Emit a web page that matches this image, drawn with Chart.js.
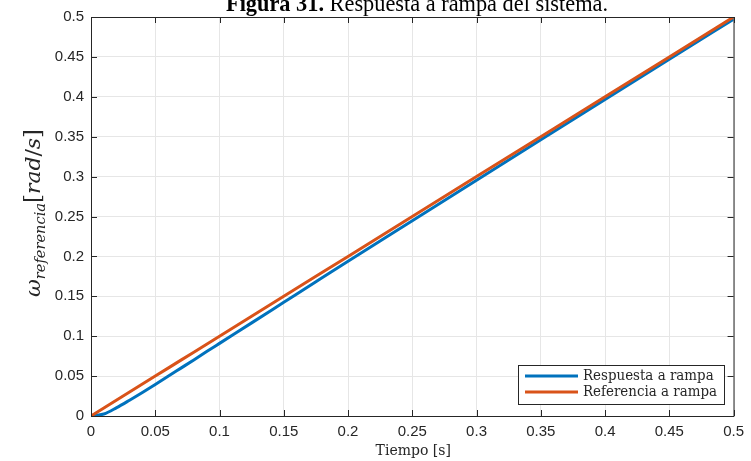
<!DOCTYPE html>
<html>
<head>
<meta charset="utf-8">
<script src="https://cdn.jsdelivr.net/npm/chart.js@4.4.1/dist/chart.umd.min.js"></script>
<style>
  html, body { margin: 0; padding: 0; background: #fff; }
  #wrap { width: 751px; height: 461px; }
</style>
</head>
<body>
<div id="wrap"><canvas id="myChart" width="751" height="461"></canvas></div>
<script>
// datos
const tiempo = [0, 0.01, 0.02, 0.03, 0.04, 0.05, 0.06, 0.07, 0.08, 0.09, 0.1, 0.125, 0.15, 0.175, 0.2, 0.25, 0.3, 0.35, 0.4, 0.45, 0.5];
const respuesta = [0, 0.0025, 0.0105, 0.0198, 0.0295, 0.0395, 0.0497, 0.06, 0.0703, 0.0807, 0.091, 0.1167, 0.1425, 0.1683, 0.194, 0.2448, 0.2955, 0.3461, 0.3966, 0.447, 0.4973];
const referencia = [0, 0.01, 0.02, 0.03, 0.04, 0.05, 0.06, 0.07, 0.08, 0.09, 0.1, 0.125, 0.15, 0.175, 0.2, 0.25, 0.3, 0.35, 0.4, 0.45, 0.5];

const xTicks = [0, 0.05, 0.1, 0.15, 0.2, 0.25, 0.3, 0.35, 0.4, 0.45, 0.5];
const xTickLabels = ["0", "0.05", "0.1", "0.15", "0.2", "0.25", "0.3", "0.35", "0.4", "0.45", "0.5"];
const yTicks = [0, 0.05, 0.1, 0.15, 0.2, 0.25, 0.3, 0.35, 0.4, 0.45, 0.5];
const yTickLabels = ["0", "0.05", "0.1", "0.15", "0.2", "0.25", "0.3", "0.35", "0.4", "0.45", "0.5"];

const nombres = ["Respuesta a rampa", "Referencia a rampa"];
const colores = ["#0072BD", "#D95319"];

const ejeColor = "#262626";
const tickFont = { family: "'Liberation Sans', Arial, sans-serif", size: 15 };

// plugin para caja, ticks internos, titulos y leyenda
const extras = {
  id: "extras",
  afterDraw(chart) {
    const ctx = chart.ctx;
    const a = chart.chartArea;
    const sx = chart.scales.x, sy = chart.scales.y;
    ctx.save();

    // caja
    ctx.strokeStyle = ejeColor;
    ctx.lineWidth = 1;
    ctx.beginPath();
    ctx.moveTo(a.left + 0.5, a.bottom + 0.5);
    ctx.lineTo(a.left + 0.5, a.top + 0.5);
    ctx.lineTo(a.right + 0.5, a.top + 0.5);
    ctx.lineTo(a.right + 0.5, a.bottom + 0.5);
    ctx.lineTo(a.left + 0.5, a.bottom + 0.5);
    ctx.stroke();

    // ticks hacia dentro
    const L = 6;
    ctx.beginPath();
    xTicks.forEach(v => {
      const px = Math.round(sx.getPixelForValue(v)) + 0.5;
      ctx.moveTo(px, a.bottom); ctx.lineTo(px, a.bottom - L);
      ctx.moveTo(px, a.top); ctx.lineTo(px, a.top + L);
    });
    yTicks.forEach(v => {
      const py = Math.round(sy.getPixelForValue(v)) + 0.5;
      ctx.moveTo(a.left, py); ctx.lineTo(a.left + L, py);
      ctx.moveTo(a.right, py); ctx.lineTo(a.right - L, py);
    });
    ctx.stroke();

    // titulo de la figura
    const t1 = "Figura 31.";
    const t2 = " Respuesta a rampa del sistema.";
    ctx.fillStyle = "#000";
    ctx.textBaseline = "alphabetic";
    ctx.textAlign = "left";
    ctx.font = "bold 24px 'Liberation Serif', serif";
    const w1 = ctx.measureText(t1).width;
    ctx.font = "24px 'Liberation Serif', serif";
    const w2 = ctx.measureText(t2).width;
    const escala = 382 / (w1 + w2);
    ctx.save();
    ctx.translate(226, 11);
    ctx.scale(escala, 1);
    ctx.font = "bold 24px 'Liberation Serif', serif";
    ctx.fillText(t1, 0, 0);
    ctx.font = "24px 'Liberation Serif', serif";
    ctx.fillText(t2, w1, 0);
    ctx.restore();

    // etiqueta eje x
    ctx.fillStyle = ejeColor;
    ctx.font = "14px 'DejaVu Serif', serif";
    ctx.textAlign = "center";
    ctx.textBaseline = "middle";
    ctx.fillText("Tiempo [s]", (a.left + a.right) / 2 + 1, 451);

    // etiqueta eje y (omega con subindice)
    ctx.save();
    ctx.translate(33, 213);
    ctx.rotate(-Math.PI / 2);
    const partes = [
      { t: "ω", f: "italic 21px 'DejaVu Serif', serif", dy: 0 },
      { t: "referencia", f: "italic 14px 'DejaVu Serif', serif", dy: 5 },
      { t: "[", f: "22px 'DejaVu Serif', serif", dy: 0 },
      { t: "rad", f: "italic 21px 'DejaVu Serif', serif", dy: 0 },
      { t: "/", f: "21px 'DejaVu Serif', serif", dy: 0 },
      { t: "s", f: "italic 21px 'DejaVu Serif', serif", dy: 0 },
      { t: "]", f: "22px 'DejaVu Serif', serif", dy: 0 }
    ];
    let total = 0;
    partes.forEach(p => { ctx.font = p.f; p.w = ctx.measureText(p.t).width; total += p.w; });
    const ey = 168 / total;
    ctx.scale(ey, 1);
    let cx = -total / 2;
    ctx.textAlign = "left";
    ctx.textBaseline = "alphabetic";
    partes.forEach(p => {
      ctx.font = p.f;
      ctx.fillText(p.t, cx, 7 + p.dy);
      cx += p.w;
    });
    ctx.restore();

    // leyenda
    const lx = 518, ly = 365, lw = 206, lh = 39;
    ctx.fillStyle = "#fff";
    ctx.fillRect(lx, ly, lw, lh);
    ctx.strokeStyle = ejeColor;
    ctx.lineWidth = 1;
    ctx.strokeRect(lx + 0.5, ly + 0.5, lw, lh);
    ctx.font = "14px 'DejaVu Serif', serif";
    ctx.textAlign = "left";
    ctx.textBaseline = "middle";
    nombres.forEach((n, i) => {
      const yy = 376 + i * 16;
      ctx.strokeStyle = colores[i];
      ctx.lineWidth = 3;
      ctx.beginPath();
      ctx.moveTo(525, yy);
      ctx.lineTo(578, yy);
      ctx.stroke();
      ctx.fillStyle = ejeColor;
      ctx.save();
      ctx.translate(583, yy);
      const tw = ctx.measureText(nombres[1]).width;
      ctx.scale(134 / tw, 1);
      ctx.fillText(n, 0, 0);
      ctx.restore();
    });

    ctx.restore();
  }
};

const datasets = [
  {
    label: nombres[0],
    data: tiempo.map((t, i) => ({ x: t, y: respuesta[i] })),
    borderColor: colores[0],
    borderWidth: 3,
    pointRadius: 0,
    cubicInterpolationMode: "monotone",
    order: 2
  },
  {
    label: nombres[1],
    data: tiempo.map((t, i) => ({ x: t, y: referencia[i] })),
    borderColor: colores[1],
    borderWidth: 3,
    pointRadius: 0,
    order: 1
  }
];

const config = {
  type: "line",
  data: { datasets },
  options: {
    responsive: false,
    animation: false,
    layout: { padding: { top: 17, right: 14, left: 0, bottom: 0 } },
    plugins: { legend: { display: false }, tooltip: { enabled: false } },
    scales: {
      x: {
        type: "linear",
        min: 0,
        max: 0.5,
        afterBuildTicks: (scale) => { scale.ticks = xTicks.map(v => ({ value: v })); },
        afterFit: (scale) => { scale.height = 45; },
        ticks: {
          font: tickFont,
          color: ejeColor,
          padding: 7,
          maxRotation: 0,
          autoSkip: false,
          callback: (v, i) => xTickLabels[i]
        },
        grid: { color: "#e6e6e6", drawTicks: false },
        border: { color: ejeColor }
      },
      y: {
        type: "linear",
        min: 0,
        max: 0.5,
        afterBuildTicks: (scale) => { scale.ticks = yTicks.map(v => ({ value: v })); },
        afterFit: (scale) => { scale.width = 91; },
        ticks: {
          font: tickFont,
          color: ejeColor,
          padding: 7,
          autoSkip: false,
          callback: (v, i) => yTickLabels[i]
        },
        grid: { color: "#e6e6e6", drawTicks: false },
        border: { color: ejeColor }
      }
    }
  },
  plugins: [extras]
};

const myChart = new Chart(document.getElementById("myChart"), config);
</script>
</body>
</html>
